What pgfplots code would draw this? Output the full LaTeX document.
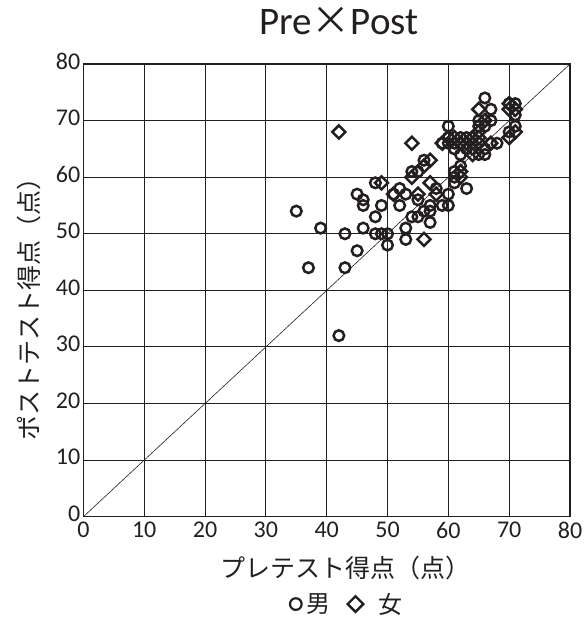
\documentclass[border=0pt]{standalone}
\usepackage{fontspec}
\setmainfont{Carlito}
\newfontfamily\cjk{Noto Sans CJK JP}
\usepackage{pgfplots}
\pgfplotsset{compat=1.18}
\definecolor{ink}{RGB}{35,31,32}
\begin{document}
\begin{tikzpicture}
\useasboundingbox (-83.4pt,-102.3pt) rectangle (503.6pt,516.7pt);
\begin{axis}[
  at={(0,0)}, anchor=south west,
  scale only axis, width=486.6pt, height=452.7pt,
  xmin=0, xmax=80, ymin=0, ymax=80,
  xtick={0,10,...,80}, ytick={0,10,...,80},
  grid=major, major grid style={ink, line width=1pt},
  axis line style={ink, line width=1.4pt},
  major tick length=0pt,
  tick label style={font=\fontsize{24}{26}\selectfont, text=ink, inner sep=1pt},
  /pgf/number format/assume math mode=true,
  xticklabel style={yshift=-4pt},
  yticklabel style={xshift=-2pt, yshift=3pt},
  title={Pre{\cjk ×}Post},
  title style={at={(axis description cs:0.525,1.051)}, anchor=base, font=\fontsize{39}{44}\selectfont, text=ink},
  xlabel={\cjk プレテスト得点（点）},
  xlabel style={at={(axis description cs:0.538,-0.113)}, anchor=center, font=\fontsize{25}{27}\selectfont, text=ink},
  ylabel={\cjk ポストテスト得点（点）},
  ylabel style={at={(axis description cs:-0.111,0.473)}, anchor=center, font=\fontsize{25}{27}\selectfont, text=ink},
  legend style={at={(axis description cs:0.542,-0.193)}, anchor=center, draw=none, fill=none,
    legend columns=-1, text=ink,
    nodes={font=\cjk\fontsize{24}{26}\selectfont, inner xsep=2pt},
    /tikz/every even column/.append style={column sep=15pt}},
  legend cell align=left,
]
\addplot[ink, line width=0.6pt, forget plot] coordinates {(0,0) (80,80)};
\addplot[only marks, mark=o, mark size=5.3pt, ink, mark options={line width=2.5pt},
  legend image post style={mark options={line width=2.2pt, scale=1.1}}] coordinates {
(35,54) (37,44) (39,51) (42,32) (43,50) (43,44) (45,57) (45,47) (46,56) (46,55) (46,51)
(48,59) (48,53) (48,50) (49,50) (49,55) (50,50) (50,48) (51,57) (52,58) (52,55) (53,57)
(53,51) (53,49) (54,61) (54,53) (55,61) (55,56) (55,53) (56,63) (56,54) (57,55) (57,54)
(57,52) (58,58) (59,55) (60,55) (60,57) (61,59) (61,60) (61,61) (62,62) (63,58) (60,69)
(60,67) (61,66) (61,65) (62,64) (62,67) (63,65) (63,67) (64,66) (64,65) (65,64) (66,64)
(65,69) (65,70) (66,74) (66,69) (67,72) (67,70) (67,66) (68,66) (66,65) (70,73) (71,73)
(71,71) (71,69) (70,68) (59,66) (62,66) (60,66)
};
\addplot[only marks, mark=square, mark size=4.6pt, ink, mark options={rotate=45, line width=2.5pt},
  legend image post style={mark options={rotate=45, line width=2.4pt, scale=1.2}}] coordinates {
(42,68) (49,59) (51,57) (54,66) (54,60) (55,57) (56,49) (57,59) (57,63) (56,62) (62,60)
(62,61) (59,66) (60,67) (61,67) (62,66) (63,66) (64,67) (65,66) (65,68) (65,67) (65,72)
(66,70) (67,66) (70,73) (71,72) (70,72) (70,67) (71,68) (64,64) (58,57)
};
\legend{\hspace*{3pt}男,\hspace*{13pt}女}
\end{axis}
\end{tikzpicture}
\end{document}
